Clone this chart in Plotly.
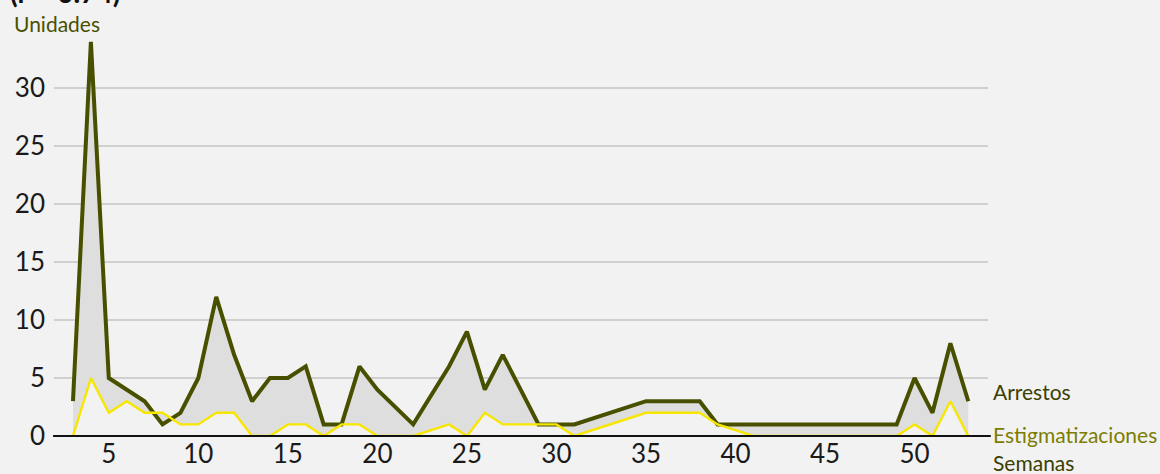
import plotly.graph_objects as go

weeks = [3, 4, 5, 6, 7, 8, 9, 10, 11, 12, 13, 14, 15, 16, 17, 18, 19, 20, 22,
         24, 25, 26, 27, 28, 29, 30, 31, 35, 36, 37, 38, 39,
         41, 42, 43, 44, 45, 46, 47, 48, 49, 50, 51, 52, 53]
arrestos = [3, 34, 5, 4, 3, 1, 2, 5, 12, 7, 3, 5, 5, 6, 1, 1, 6, 4, 1,
            6, 9, 4, 7, 4, 1, 1, 1, 3, 3, 3, 3, 1,
            1, 1, 1, 1, 1, 1, 1, 1, 1, 5, 2, 8, 3]
estigmatizaciones = [0, 5, 2, 3, 2, 2, 1, 1, 2, 2, 0, 0, 1, 1, 0, 1, 1, 0, 0,
                     1, 0, 2, 1, 1, 1, 1, 0, 2, 2, 2, 2, 1,
                     0, 0, 0, 0, 0, 0, 0, 0, 0, 1, 0, 3, 0]
x_ticks = [5, 10, 15, 20, 25, 30, 35, 40, 45, 50]
y_ticks = [0, 5, 10, 15, 20, 25, 30]

DARK = "#485000"
YELLOW = "#f7e600"
FONT = "Lato"
PLOT_H = 400.0


def py(p):
    # pixel row -> paper y
    return (436 - p) / PLOT_H


def px(p):
    return (p - 54) / 934.0


fig = go.Figure()
fig.add_trace(go.Scatter(x=weeks, y=estigmatizaciones, mode="lines",
                         line=dict(color="rgba(0,0,0,0)", width=0),
                         hoverinfo="skip", showlegend=False))
fig.add_trace(go.Scatter(x=weeks, y=arrestos, mode="lines", fill="tonexty",
                         fillcolor="#dedede",
                         line=dict(color=DARK, width=4),
                         name="Arrestos", showlegend=False))
fig.add_trace(go.Scatter(x=weeks, y=estigmatizaciones, mode="lines",
                         line=dict(color=YELLOW, width=2.4),
                         name="Estigmatizaciones", showlegend=False))

annotations = [
    dict(text="Arrestos", x=px(991), xref="paper", y=py(391), yref="paper",
         xanchor="left", yanchor="middle", showarrow=False,
         font=dict(family=FONT, size=21, color="#3a4000")),
    dict(text="Estigmatizaciones", x=px(991), xref="paper", y=py(434), yref="paper",
         xanchor="left", yanchor="middle", showarrow=False,
         font=dict(family=FONT, size=21, color="#7d7d00")),
    dict(text="Semanas", x=px(991), xref="paper", y=py(462), yref="paper",
         xanchor="left", yanchor="middle", showarrow=False,
         font=dict(family=FONT, size=21, color="#3a4000")),
    dict(text="Unidades", x=px(12), xref="paper", y=py(23), yref="paper",
         xanchor="left", yanchor="middle", showarrow=False,
         font=dict(family=FONT, size=21, color="#4a5000")),
    dict(text="<b>(r = 0.74)</b>", x=px(8), xref="paper", y=py(11), yref="paper",
         xanchor="left", yanchor="bottom", showarrow=False,
         font=dict(family=FONT, size=28, color="#111111")),
]

fig.update_layout(
    width=1160, height=474,
    margin=dict(l=54, r=172, t=36, b=38, autoexpand=False),
    paper_bgcolor="#f2f2f2", plot_bgcolor="#f2f2f2",
    annotations=annotations,
    font=dict(family=FONT, size=26, color="#1a1a1a"),
    xaxis=dict(range=[1.94, 54.1], tickvals=x_ticks, showgrid=False,
               zeroline=False, showline=False, ticks="", automargin=False,
               tickfont=dict(family=FONT, size=26, color="#1a1a1a")),
    yaxis=dict(range=[0, 34.5], tickvals=y_ticks, showgrid=True,
               gridcolor="#d0d0d0", gridwidth=2, automargin=False,
               zeroline=False, showline=False, ticks="",
               ticklabelstandoff=8,
               tickfont=dict(family=FONT, size=26, color="#1a1a1a")),
    shapes=[dict(type="line", xref="paper", yref="paper", x0=-0.001, x1=1.003,
                 y0=0, y1=0, line=dict(color="#111111", width=2), layer="above")],
)

fig.write_html("out.html", config={"displayModeBar": False},
               post_script="document.body.style.margin='0';document.body.style.background='#f2f2f2';")
